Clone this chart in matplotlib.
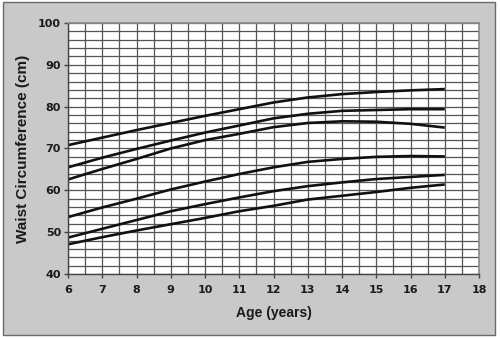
import matplotlib
matplotlib.use("Agg")
import matplotlib.pyplot as plt
from matplotlib.patches import Rectangle
from matplotlib.ticker import MultipleLocator

ages = [6, 7, 8, 9, 10, 11, 12, 13, 14, 15, 16, 17]
curve1 = [70.8, 72.6, 74.4, 76.1, 77.8, 79.4, 81.0, 82.2, 83.0, 83.5, 83.9, 84.2]
curve2 = [65.5, 67.8, 69.9, 71.9, 73.8, 75.5, 77.2, 78.3, 79.0, 79.2, 79.4, 79.4]
curve3 = [62.6, 65.1, 67.5, 70.0, 72.0, 73.5, 75.1, 76.1, 76.5, 76.4, 75.9, 75.0]
curve4 = [53.6, 55.9, 58.0, 60.2, 62.1, 63.9, 65.5, 66.8, 67.5, 68.0, 68.2, 68.1]
curve5 = [48.7, 50.8, 52.9, 55.0, 56.7, 58.3, 59.8, 61.0, 61.9, 62.7, 63.2, 63.7]
curve6 = [47.1, 48.8, 50.4, 51.9, 53.4, 55.0, 56.3, 57.8, 58.7, 59.6, 60.6, 61.4]
curves = [curve1, curve2, curve3, curve4, curve5, curve6]

x_ticks = list(range(6, 19))
y_ticks = [40, 50, 60, 70, 80, 90, 100]

plt.rcParams['font.family'] = ['Liberation Sans', 'DejaVu Sans']

fig = plt.figure(figsize=(5.0, 3.38), dpi=100)
fig.patch.set_facecolor('white')
# gray panel with thin border
fig.patches.append(Rectangle((3/500, 3/338), 492/500, 333/338, transform=fig.transFigure,
                             facecolor='#c9c9c9', edgecolor='#6a6a6a', linewidth=1.0, zorder=-10))

ax = fig.add_axes([68/500, 1-274/338, 411/500, 251/338])
ax.set_zorder(5)
ax.set_facecolor('white')
ax.set_xlim(6, 18)
ax.set_ylim(40, 100)
ax.xaxis.set_major_locator(MultipleLocator(1))
ax.xaxis.set_minor_locator(MultipleLocator(0.5))
ax.yaxis.set_major_locator(MultipleLocator(10))
ax.yaxis.set_minor_locator(MultipleLocator(2))
ax.set_xticks(x_ticks)
ax.set_yticks(y_ticks)
ax.grid(True, which='both', color='#555555', linewidth=0.9)
ax.set_axisbelow(True)

for c in curves:
    ax.plot(ages, c, color='#111111', linewidth=1.9, solid_capstyle='butt')

ax.tick_params(axis='x', which='major', direction='out', length=3, width=1, color='#444444',
               labelsize=8, pad=5)
ax.tick_params(axis='y', which='major', direction='out', length=3, width=1, color='#444444',
               labelsize=8, pad=2)
ax.tick_params(which='minor', length=0)
for lab in ax.get_xticklabels() + ax.get_yticklabels():
    lab.set_fontweight('bold')
    lab.set_fontfamily('DejaVu Sans')
    lab.set_color('#1a1a1a')

for side in ['left', 'bottom']:
    ax.spines[side].set_color('#444444')
    ax.spines[side].set_linewidth(1.0)
for side in ['top', 'right']:
    ax.spines[side].set_color('#8a8a8a')
    ax.spines[side].set_linewidth(1.2)

ax.set_xlabel('Age (years)', fontsize=10, fontweight='bold', color='#1a1a1a', labelpad=8)
ax.set_ylabel('Waist Circumference (cm)', fontsize=11, fontweight='bold', color='#1a1a1a', labelpad=6)

fig.savefig('out.png', dpi=100, facecolor=fig.get_facecolor())
